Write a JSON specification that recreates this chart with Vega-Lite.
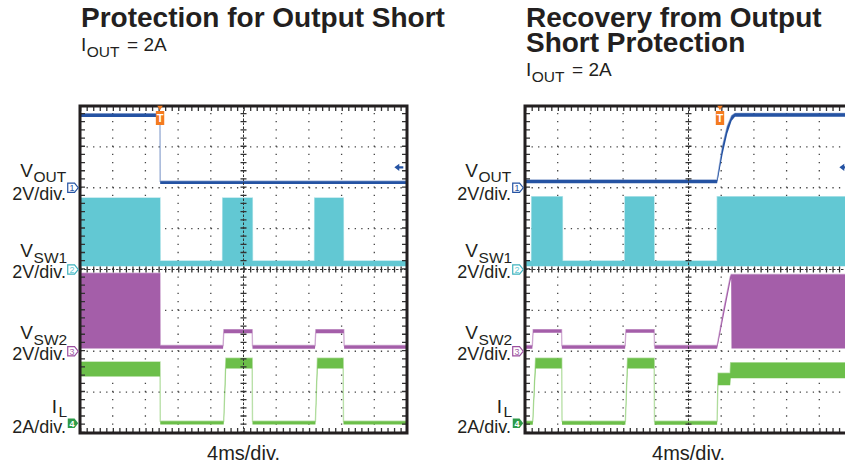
{
  "$schema": "https://vega.github.io/schema/vega-lite/v6.json",
  "width": 845,
  "height": 466,
  "autosize": {"type": "fit", "contains": "padding"},
  "padding": 0,
  "background": "white",
  "config": {"view": {"stroke": null}, "font": "Liberation Sans"},
  "datasets": {
    "traces": [
      {"panel": "L", "ch": "VOUT", "t": 0, "lo": 7.73, "hi": 7.81},
      {"panel": "L", "ch": "VOUT", "t": 9.78, "lo": 7.73, "hi": 7.81},
      {"panel": "L", "ch": "VOUT", "t": 9.81, "lo": 6.09, "hi": 6.16},
      {"panel": "L", "ch": "VOUT", "t": 40, "lo": 6.09, "hi": 6.16},
      {"panel": "L", "ch": "VSW1", "t": 0, "lo": 4.08, "hi": 5.75},
      {"panel": "L", "ch": "VSW1", "t": 9.79, "lo": 4.08, "hi": 5.75},
      {"panel": "L", "ch": "VSW1", "t": 9.81, "lo": 4.08, "hi": 4.21},
      {"panel": "L", "ch": "VSW1", "t": 17.44, "lo": 4.08, "hi": 4.21},
      {"panel": "L", "ch": "VSW1", "t": 17.46, "lo": 4.08, "hi": 5.75},
      {"panel": "L", "ch": "VSW1", "t": 21.08, "lo": 4.08, "hi": 5.75},
      {"panel": "L", "ch": "VSW1", "t": 21.1, "lo": 4.08, "hi": 4.21},
      {"panel": "L", "ch": "VSW1", "t": 28.69, "lo": 4.08, "hi": 4.21},
      {"panel": "L", "ch": "VSW1", "t": 28.71, "lo": 4.08, "hi": 5.75},
      {"panel": "L", "ch": "VSW1", "t": 32.21, "lo": 4.08, "hi": 5.75},
      {"panel": "L", "ch": "VSW1", "t": 32.23, "lo": 4.08, "hi": 4.21},
      {"panel": "L", "ch": "VSW1", "t": 40, "lo": 4.08, "hi": 4.21},
      {"panel": "L", "ch": "VSW2", "t": 0, "lo": 2.07, "hi": 3.91},
      {"panel": "L", "ch": "VSW2", "t": 9.79, "lo": 2.07, "hi": 3.91},
      {"panel": "L", "ch": "VSW2", "t": 9.81, "lo": 2.06, "hi": 2.14},
      {"panel": "L", "ch": "VSW2", "t": 17.5, "lo": 2.06, "hi": 2.14},
      {"panel": "L", "ch": "VSW2", "t": 17.6, "lo": 2.44, "hi": 2.53},
      {"panel": "L", "ch": "VSW2", "t": 21.06, "lo": 2.44, "hi": 2.53},
      {"panel": "L", "ch": "VSW2", "t": 21.1, "lo": 2.06, "hi": 2.14},
      {"panel": "L", "ch": "VSW2", "t": 28.75, "lo": 2.06, "hi": 2.14},
      {"panel": "L", "ch": "VSW2", "t": 28.85, "lo": 2.44, "hi": 2.53},
      {"panel": "L", "ch": "VSW2", "t": 32.27, "lo": 2.44, "hi": 2.53},
      {"panel": "L", "ch": "VSW2", "t": 32.31, "lo": 2.06, "hi": 2.14},
      {"panel": "L", "ch": "VSW2", "t": 40, "lo": 2.06, "hi": 2.14},
      {"panel": "L", "ch": "IL", "t": 0, "lo": 1.38, "hi": 1.74},
      {"panel": "L", "ch": "IL", "t": 9.79, "lo": 1.38, "hi": 1.74},
      {"panel": "L", "ch": "IL", "t": 9.82, "lo": 0.21, "hi": 0.29},
      {"panel": "L", "ch": "IL", "t": 17.58, "lo": 0.21, "hi": 0.29},
      {"panel": "L", "ch": "IL", "t": 17.85, "lo": 1.58, "hi": 1.83},
      {"panel": "L", "ch": "IL", "t": 21.06, "lo": 1.58, "hi": 1.83},
      {"panel": "L", "ch": "IL", "t": 21.1, "lo": 0.21, "hi": 0.29},
      {"panel": "L", "ch": "IL", "t": 28.8, "lo": 0.21, "hi": 0.29},
      {"panel": "L", "ch": "IL", "t": 29.05, "lo": 1.58, "hi": 1.83},
      {"panel": "L", "ch": "IL", "t": 32.19, "lo": 1.58, "hi": 1.83},
      {"panel": "L", "ch": "IL", "t": 32.23, "lo": 0.21, "hi": 0.29},
      {"panel": "L", "ch": "IL", "t": 40, "lo": 0.21, "hi": 0.29},
      {"panel": "R", "ch": "VOUT", "t": 0, "lo": 6.11, "hi": 6.19},
      {"panel": "R", "ch": "VOUT", "t": 23.5, "lo": 6.11, "hi": 6.19},
      {"panel": "R", "ch": "VOUT", "t": 24.17, "lo": 6.82, "hi": 7.02},
      {"panel": "R", "ch": "VOUT", "t": 24.74, "lo": 7.32, "hi": 7.5},
      {"panel": "R", "ch": "VOUT", "t": 25.28, "lo": 7.64, "hi": 7.76},
      {"panel": "R", "ch": "VOUT", "t": 25.69, "lo": 7.74, "hi": 7.82},
      {"panel": "R", "ch": "VOUT", "t": 40, "lo": 7.74, "hi": 7.82},
      {"panel": "R", "ch": "VSW1", "t": 0, "lo": 4.08, "hi": 4.21},
      {"panel": "R", "ch": "VSW1", "t": 0.8, "lo": 4.08, "hi": 4.21},
      {"panel": "R", "ch": "VSW1", "t": 0.82, "lo": 4.08, "hi": 5.78},
      {"panel": "R", "ch": "VSW1", "t": 4.57, "lo": 4.08, "hi": 5.78},
      {"panel": "R", "ch": "VSW1", "t": 4.59, "lo": 4.08, "hi": 4.21},
      {"panel": "R", "ch": "VSW1", "t": 12.21, "lo": 4.08, "hi": 4.21},
      {"panel": "R", "ch": "VSW1", "t": 12.23, "lo": 4.08, "hi": 5.78},
      {"panel": "R", "ch": "VSW1", "t": 15.78, "lo": 4.08, "hi": 5.78},
      {"panel": "R", "ch": "VSW1", "t": 15.8, "lo": 4.08, "hi": 4.21},
      {"panel": "R", "ch": "VSW1", "t": 23.5, "lo": 4.08, "hi": 4.21},
      {"panel": "R", "ch": "VSW1", "t": 23.52, "lo": 4.08, "hi": 5.78},
      {"panel": "R", "ch": "VSW1", "t": 40, "lo": 4.08, "hi": 5.78},
      {"panel": "R", "ch": "VSW2", "t": 0, "lo": 2.06, "hi": 2.14},
      {"panel": "R", "ch": "VSW2", "t": 0.9, "lo": 2.06, "hi": 2.14},
      {"panel": "R", "ch": "VSW2", "t": 1.0, "lo": 2.45, "hi": 2.53},
      {"panel": "R", "ch": "VSW2", "t": 4.47, "lo": 2.45, "hi": 2.53},
      {"panel": "R", "ch": "VSW2", "t": 4.51, "lo": 2.06, "hi": 2.14},
      {"panel": "R", "ch": "VSW2", "t": 12.25, "lo": 2.06, "hi": 2.14},
      {"panel": "R", "ch": "VSW2", "t": 12.35, "lo": 2.45, "hi": 2.53},
      {"panel": "R", "ch": "VSW2", "t": 15.8, "lo": 2.45, "hi": 2.53},
      {"panel": "R", "ch": "VSW2", "t": 15.84, "lo": 2.06, "hi": 2.14},
      {"panel": "R", "ch": "VSW2", "t": 23.5, "lo": 2.06, "hi": 2.14},
      {"panel": "R", "ch": "VSW2", "t": 24.3, "lo": 2.86, "hi": 3.02},
      {"panel": "R", "ch": "VSW2", "t": 25.1, "lo": 3.68, "hi": 3.82},
      {"panel": "R", "ch": "VSW2", "t": 25.22, "lo": 3.78, "hi": 3.88},
      {"panel": "R", "ch": "VSW2", "t": 25.26, "lo": 2.07, "hi": 3.88},
      {"panel": "R", "ch": "VSW2", "t": 40, "lo": 2.07, "hi": 3.88},
      {"panel": "R", "ch": "IL", "t": 0, "lo": 0.2, "hi": 0.29},
      {"panel": "R", "ch": "IL", "t": 0.95, "lo": 0.2, "hi": 0.29},
      {"panel": "R", "ch": "IL", "t": 1.3, "lo": 1.58, "hi": 1.83},
      {"panel": "R", "ch": "IL", "t": 4.49, "lo": 1.58, "hi": 1.83},
      {"panel": "R", "ch": "IL", "t": 4.53, "lo": 0.2, "hi": 0.29},
      {"panel": "R", "ch": "IL", "t": 12.28, "lo": 0.2, "hi": 0.29},
      {"panel": "R", "ch": "IL", "t": 12.55, "lo": 1.58, "hi": 1.83},
      {"panel": "R", "ch": "IL", "t": 15.8, "lo": 1.58, "hi": 1.83},
      {"panel": "R", "ch": "IL", "t": 15.84, "lo": 0.2, "hi": 0.29},
      {"panel": "R", "ch": "IL", "t": 23.5, "lo": 0.2, "hi": 0.29},
      {"panel": "R", "ch": "IL", "t": 23.62, "lo": 1.17, "hi": 1.46},
      {"panel": "R", "ch": "IL", "t": 25.1, "lo": 1.17, "hi": 1.46},
      {"panel": "R", "ch": "IL", "t": 25.16, "lo": 1.34, "hi": 1.72},
      {"panel": "R", "ch": "IL", "t": 40, "lo": 1.34, "hi": 1.72}
    ],
    "vgrid": [{"t": 4}, {"t": 8}, {"t": 12}, {"t": 16}, {"t": 24}, {"t": 28}, {"t": 32}, {"t": 36}],
    "hgrid": [{"d": 1}, {"d": 2}, {"d": 3}, {"d": 5}, {"d": 6}, {"d": 7}],
    "frame": [{"x0": 0, "x1": 40, "y0": 0, "y1": 8, "xc": 20, "yc": 4}],
    "chmarks": [
      {"ch": "VOUT", "num": "1", "d": 6.0},
      {"ch": "VSW1", "num": "2", "d": 4.0},
      {"ch": "VSW2", "num": "3", "d": 2.0},
      {"ch": "IL", "num": "4", "d": 0.24}
    ],
    "trig": [{"panel": "L", "t": 9.79}, {"panel": "R", "t": 23.85}],
    "arrow": [{"t": 39.0, "d": 6.5}],
    "labels": [
      {"panel": "L", "kind": "title", "text": "Protection for Output Short", "t": 0.12, "d": 9.93},
      {"panel": "R", "kind": "title", "text": "Recovery from Output", "t": 0.12, "d": 9.93},
      {"panel": "R", "kind": "title", "text": "Short Protection", "t": 0.12, "d": 9.32},
      {"panel": "L", "kind": "big", "text": "I", "t": 0.12, "d": 9.34},
      {"panel": "L", "kind": "small", "text": "OUT", "t": 0.82, "d": 9.2},
      {"panel": "L", "kind": "big", "text": "= 2A", "t": 5.75, "d": 9.35},
      {"panel": "R", "kind": "big", "text": "I", "t": 0.12, "d": 8.73},
      {"panel": "R", "kind": "small", "text": "OUT", "t": 0.82, "d": 8.59},
      {"panel": "R", "kind": "big", "text": "= 2A", "t": 5.75, "d": 8.74},
      {"panel": "both", "kind": "big", "text": "V", "t": -7.32, "d": 6.26},
      {"panel": "both", "kind": "small", "text": "OUT", "t": -5.68, "d": 6.13},
      {"panel": "both", "kind": "div", "text": "2V/div.", "t": -1.71, "d": 5.7},
      {"panel": "both", "kind": "big", "text": "V", "t": -7.32, "d": 4.3},
      {"panel": "both", "kind": "small", "text": "SW1", "t": -5.68, "d": 4.17},
      {"panel": "both", "kind": "div", "text": "2V/div.", "t": -1.71, "d": 3.79},
      {"panel": "both", "kind": "big", "text": "V", "t": -7.32, "d": 2.29},
      {"panel": "both", "kind": "small", "text": "SW2", "t": -5.68, "d": 2.16},
      {"panel": "both", "kind": "div", "text": "2V/div.", "t": -1.71, "d": 1.79},
      {"panel": "both", "kind": "big", "text": "I", "t": -3.45, "d": 0.49},
      {"panel": "both", "kind": "small", "text": "L", "t": -2.62, "d": 0.39},
      {"panel": "both", "kind": "div", "text": "2A/div.", "t": -1.71, "d": 0.0},
      {"panel": "both", "kind": "time", "text": "4ms/div.", "t": 20, "d": -0.66}
    ]
  },
  "resolve": {"scale": {"x": "independent"}},
  "layer": [
    {
      "layer": [
        {"data": {"name": "vgrid"}, "mark": {"type": "rule", "stroke": "#444", "strokeWidth": 1.3, "strokeDash": [1.3, 6.875]},
         "encoding": {"x": {"field": "t", "type": "quantitative", "scale": {"domain": [0, 40], "range": [80, 407], "nice": false, "zero": false}, "axis": null},
                      "y": {"datum": 0, "type": "quantitative", "scale": {"domain": [0, 8], "range": [433, 106], "nice": false, "zero": false}, "axis": null},
                      "y2": {"datum": 8}}},
        {"data": {"name": "hgrid"}, "mark": {"type": "rule", "stroke": "#444", "strokeWidth": 1.3, "strokeDash": [1.3, 5.24]},
         "encoding": {"y": {"field": "d", "type": "quantitative", "scale": {"domain": [0, 8], "range": [433, 106], "nice": false, "zero": false}, "axis": null},
                      "x": {"datum": 0, "type": "quantitative", "scale": {"domain": [0, 40], "range": [80, 407], "nice": false, "zero": false}, "axis": null},
                      "x2": {"datum": 40}}},
        {"data": {"name": "traces"}, "transform": [{"filter": "datum.panel === 'L'"}],
         "mark": {"type": "line", "strokeWidth": 1.4, "opacity": 0.45},
         "encoding": {"x": {"field": "t", "type": "quantitative", "scale": {"domain": [0, 40], "range": [80, 407], "nice": false, "zero": false}, "axis": null},
                      "y": {"field": "hi", "type": "quantitative", "scale": {"domain": [0, 8], "range": [433, 106], "nice": false, "zero": false}, "axis": null},
                      "color": {"field": "ch", "type": "nominal", "scale": {"domain": ["VOUT", "VSW1", "VSW2", "IL"], "range": ["#2553a3", "#62c8d3", "#a45ea9", "#6cbf4a"]}, "legend": null}}},
        {"data": {"name": "traces"}, "transform": [{"filter": "datum.panel === 'L'"}],
         "mark": {"type": "area", "opacity": 1},
         "encoding": {"x": {"field": "t", "type": "quantitative", "scale": {"domain": [0, 40], "range": [80, 407], "nice": false, "zero": false}, "axis": null},
                      "y": {"field": "hi", "type": "quantitative", "scale": {"domain": [0, 8], "range": [433, 106], "nice": false, "zero": false}, "axis": null},
                      "y2": {"field": "lo"},
                      "color": {"field": "ch", "type": "nominal", "scale": {"domain": ["VOUT", "VSW1", "VSW2", "IL"], "range": ["#2553a3", "#62c8d3", "#a45ea9", "#6cbf4a"]}, "legend": null}}},
        {"data": {"name": "frame"}, "mark": {"type": "rule", "stroke": "#333", "strokeWidth": 1, "strokeDash": [2.5, 1.5]},
         "encoding": {"x": {"field": "xc", "type": "quantitative", "scale": {"domain": [0, 40], "range": [80, 407], "nice": false, "zero": false}, "axis": null},
                      "y": {"field": "y0", "type": "quantitative", "scale": {"domain": [0, 8], "range": [433, 106], "nice": false, "zero": false}, "axis": null},
                      "y2": {"field": "y1"}}},
        {"data": {"name": "frame"}, "mark": {"type": "rule", "stroke": "#333", "strokeWidth": 6, "strokeDash": [1.3, 6.875]},
         "encoding": {"x": {"field": "xc", "type": "quantitative", "scale": {"domain": [0, 40], "range": [80, 407], "nice": false, "zero": false}, "axis": null},
                      "y": {"field": "y0", "type": "quantitative", "scale": {"domain": [0, 8], "range": [433, 106], "nice": false, "zero": false}, "axis": null},
                      "y2": {"field": "y1"}}},
        {"data": {"name": "frame"}, "mark": {"type": "rule", "stroke": "#333", "strokeWidth": 1, "strokeDash": [2.5, 1.5]},
         "encoding": {"y": {"field": "yc", "type": "quantitative", "scale": {"domain": [0, 8], "range": [433, 106], "nice": false, "zero": false}, "axis": null},
                      "x": {"field": "x0", "type": "quantitative", "scale": {"domain": [0, 40], "range": [80, 407], "nice": false, "zero": false}, "axis": null},
                      "x2": {"field": "x1"}}},
        {"data": {"name": "frame"}, "mark": {"type": "rule", "stroke": "#333", "strokeWidth": 6, "strokeDash": [1.3, 5.24]},
         "encoding": {"y": {"field": "yc", "type": "quantitative", "scale": {"domain": [0, 8], "range": [433, 106], "nice": false, "zero": false}, "axis": null},
                      "x": {"field": "x0", "type": "quantitative", "scale": {"domain": [0, 40], "range": [80, 407], "nice": false, "zero": false}, "axis": null},
                      "x2": {"field": "x1"}}},
        {"data": {"name": "frame"}, "mark": {"type": "rule", "stroke": "#333", "strokeWidth": 5, "strokeDash": [1.3, 5.24], "yOffset": 2.5},
         "encoding": {"y": {"field": "y1", "type": "quantitative", "scale": {"domain": [0, 8], "range": [433, 106], "nice": false, "zero": false}, "axis": null},
                      "x": {"field": "x0", "type": "quantitative", "scale": {"domain": [0, 40], "range": [80, 407], "nice": false, "zero": false}, "axis": null},
                      "x2": {"field": "x1"}}},
        {"data": {"name": "frame"}, "mark": {"type": "rule", "stroke": "#333", "strokeWidth": 5, "strokeDash": [1.3, 5.24], "yOffset": -2.5},
         "encoding": {"y": {"field": "y0", "type": "quantitative", "scale": {"domain": [0, 8], "range": [433, 106], "nice": false, "zero": false}, "axis": null},
                      "x": {"field": "x0", "type": "quantitative", "scale": {"domain": [0, 40], "range": [80, 407], "nice": false, "zero": false}, "axis": null},
                      "x2": {"field": "x1"}}},
        {"data": {"name": "frame"}, "mark": {"type": "rule", "stroke": "#333", "strokeWidth": 5, "strokeDash": [1.3, 6.875], "xOffset": 2.5},
         "encoding": {"x": {"field": "x0", "type": "quantitative", "scale": {"domain": [0, 40], "range": [80, 407], "nice": false, "zero": false}, "axis": null},
                      "y": {"field": "y0", "type": "quantitative", "scale": {"domain": [0, 8], "range": [433, 106], "nice": false, "zero": false}, "axis": null},
                      "y2": {"field": "y1"}}},
        {"data": {"name": "frame"}, "mark": {"type": "rule", "stroke": "#333", "strokeWidth": 5, "strokeDash": [1.3, 6.875], "xOffset": -2.5},
         "encoding": {"x": {"field": "x1", "type": "quantitative", "scale": {"domain": [0, 40], "range": [80, 407], "nice": false, "zero": false}, "axis": null},
                      "y": {"field": "y0", "type": "quantitative", "scale": {"domain": [0, 8], "range": [433, 106], "nice": false, "zero": false}, "axis": null},
                      "y2": {"field": "y1"}}},
        {"data": {"name": "frame"}, "mark": {"type": "rect", "fillOpacity": 0, "stroke": "#231f20", "strokeWidth": 3},
         "encoding": {"x": {"field": "x0", "type": "quantitative", "scale": {"domain": [0, 40], "range": [80, 407], "nice": false, "zero": false}, "axis": null},
                      "x2": {"field": "x1"},
                      "y": {"field": "y0", "type": "quantitative", "scale": {"domain": [0, 8], "range": [433, 106], "nice": false, "zero": false}, "axis": null},
                      "y2": {"field": "y1"}}},
        {"data": {"name": "chmarks"}, "transform": [{"filter": "datum.ch !== 'IL'"}],
         "mark": {"type": "point", "shape": "M -1 -0.9 L 0.3 -0.9 L 1 0 L 0.3 0.9 L -1 0.9 Z", "size": 110, "filled": true, "fill": "white", "strokeWidth": 1.2, "opacity": 1},
         "encoding": {"x": {"datum": -0.86, "type": "quantitative", "scale": {"domain": [0, 40], "range": [80, 407], "nice": false, "zero": false}, "axis": null},
                      "y": {"field": "d", "type": "quantitative", "scale": {"domain": [0, 8], "range": [433, 106], "nice": false, "zero": false}, "axis": null},
                      "stroke": {"field": "ch", "type": "nominal", "scale": {"domain": ["VOUT", "VSW1", "VSW2", "IL"], "range": ["#2553a3", "#3fb3bf", "#9c4fa0", "#2e9b4a"]}, "legend": null}}},
        {"data": {"name": "chmarks"}, "transform": [{"filter": "datum.ch === 'IL'"}],
         "mark": {"type": "point", "shape": "M -1 -0.9 L 0.3 -0.9 L 1 0 L 0.3 0.9 L -1 0.9 Z", "size": 110, "filled": true, "fill": "#2e9b4a", "opacity": 1},
         "encoding": {"x": {"datum": -0.86, "type": "quantitative", "scale": {"domain": [0, 40], "range": [80, 407], "nice": false, "zero": false}, "axis": null},
                      "y": {"field": "d", "type": "quantitative", "scale": {"domain": [0, 8], "range": [433, 106], "nice": false, "zero": false}, "axis": null}}},
        {"data": {"name": "chmarks"}, "transform": [{"filter": "datum.ch !== 'IL'"}],
         "mark": {"type": "text", "fontSize": 9, "align": "center", "baseline": "middle", "dx": -1, "dy": 0.5},
         "encoding": {"x": {"datum": -0.86, "type": "quantitative", "scale": {"domain": [0, 40], "range": [80, 407], "nice": false, "zero": false}, "axis": null},
                      "y": {"field": "d", "type": "quantitative", "scale": {"domain": [0, 8], "range": [433, 106], "nice": false, "zero": false}, "axis": null},
                      "text": {"field": "num"},
                      "color": {"field": "ch", "type": "nominal", "scale": {"domain": ["VOUT", "VSW1", "VSW2", "IL"], "range": ["#2553a3", "#62c8d3", "#a45ea9", "#6cbf4a"]}, "legend": null}}},
        {"data": {"name": "chmarks"}, "transform": [{"filter": "datum.ch === 'IL'"}],
         "mark": {"type": "text", "fontSize": 9, "fontWeight": "bold", "align": "center", "baseline": "middle", "dx": -1, "dy": 0.5, "fill": "white"},
         "encoding": {"x": {"datum": -0.86, "type": "quantitative", "scale": {"domain": [0, 40], "range": [80, 407], "nice": false, "zero": false}, "axis": null},
                      "y": {"field": "d", "type": "quantitative", "scale": {"domain": [0, 8], "range": [433, 106], "nice": false, "zero": false}, "axis": null},
                      "text": {"field": "num"}}},
        {"data": {"name": "trig"}, "transform": [{"filter": "datum.panel === 'L'"}],
         "mark": {"type": "point", "shape": "triangle-down", "size": 30, "filled": true, "fill": "#f47b20", "opacity": 1, "yOffset": 2},
         "encoding": {"x": {"field": "t", "type": "quantitative", "scale": {"domain": [0, 40], "range": [80, 407], "nice": false, "zero": false}, "axis": null},
                      "y": {"datum": 8, "type": "quantitative", "scale": {"domain": [0, 8], "range": [433, 106], "nice": false, "zero": false}, "axis": null}}},
        {"data": {"name": "trig"}, "transform": [{"filter": "datum.panel === 'L'"}],
         "mark": {"type": "point", "shape": "M -0.6 -1 L 0.6 -1 L 0.6 1 L -0.6 1 Z", "size": 196, "filled": true, "fill": "#f47b20", "opacity": 1},
         "encoding": {"x": {"field": "t", "type": "quantitative", "scale": {"domain": [0, 40], "range": [80, 407], "nice": false, "zero": false}, "axis": null},
                      "y": {"datum": 7.706, "type": "quantitative", "scale": {"domain": [0, 8], "range": [433, 106], "nice": false, "zero": false}, "axis": null}}},
        {"data": {"name": "trig"}, "transform": [{"filter": "datum.panel === 'L'"}],
         "mark": {"type": "text", "text": "T", "fontSize": 11, "fontWeight": "bold", "align": "center", "baseline": "middle", "fill": "white", "dy": 1},
         "encoding": {"x": {"field": "t", "type": "quantitative", "scale": {"domain": [0, 40], "range": [80, 407], "nice": false, "zero": false}, "axis": null},
                      "y": {"datum": 7.706, "type": "quantitative", "scale": {"domain": [0, 8], "range": [433, 106], "nice": false, "zero": false}, "axis": null}}},
        {"data": {"name": "arrow"},
         "mark": {"type": "point", "shape": "M -1 0 L 0.1 -0.8 L 0.1 -0.25 L 1 -0.25 L 1 0.25 L 0.1 0.25 L 0.1 0.8 Z", "size": 80, "filled": true, "fill": "#2553a3", "opacity": 1},
         "encoding": {"x": {"field": "t", "type": "quantitative", "scale": {"domain": [0, 40], "range": [80, 407], "nice": false, "zero": false}, "axis": null},
                      "y": {"field": "d", "type": "quantitative", "scale": {"domain": [0, 8], "range": [433, 106], "nice": false, "zero": false}, "axis": null}}},
        {"data": {"name": "labels"}, "transform": [{"filter": "datum.panel === 'L' && datum.kind === 'title'"}],
         "mark": {"type": "text", "fontSize": 28, "fontWeight": "bold", "align": "left", "baseline": "alphabetic", "fill": "#231f20"},
         "encoding": {"x": {"field": "t", "type": "quantitative", "scale": {"domain": [0, 40], "range": [80, 407], "nice": false, "zero": false}, "axis": null},
                      "y": {"field": "d", "type": "quantitative", "scale": {"domain": [0, 8], "range": [433, 106], "nice": false, "zero": false}, "axis": null},
                      "text": {"field": "text"}}},
        {"data": {"name": "labels"}, "transform": [{"filter": "(datum.panel === 'L' || datum.panel === 'both') && datum.kind === 'big'"}],
         "mark": {"type": "text", "fontSize": 19, "align": "left", "baseline": "alphabetic", "fill": "#231f20"},
         "encoding": {"x": {"field": "t", "type": "quantitative", "scale": {"domain": [0, 40], "range": [80, 407], "nice": false, "zero": false}, "axis": null},
                      "y": {"field": "d", "type": "quantitative", "scale": {"domain": [0, 8], "range": [433, 106], "nice": false, "zero": false}, "axis": null},
                      "text": {"field": "text"}}},
        {"data": {"name": "labels"}, "transform": [{"filter": "(datum.panel === 'L' || datum.panel === 'both') && datum.kind === 'small'"}],
         "mark": {"type": "text", "fontSize": 15.5, "align": "left", "baseline": "alphabetic", "fill": "#231f20"},
         "encoding": {"x": {"field": "t", "type": "quantitative", "scale": {"domain": [0, 40], "range": [80, 407], "nice": false, "zero": false}, "axis": null},
                      "y": {"field": "d", "type": "quantitative", "scale": {"domain": [0, 8], "range": [433, 106], "nice": false, "zero": false}, "axis": null},
                      "text": {"field": "text"}}},
        {"data": {"name": "labels"}, "transform": [{"filter": "(datum.panel === 'L' || datum.panel === 'both') && datum.kind === 'div'"}],
         "mark": {"type": "text", "fontSize": 18, "align": "right", "baseline": "alphabetic", "fill": "#231f20"},
         "encoding": {"x": {"field": "t", "type": "quantitative", "scale": {"domain": [0, 40], "range": [80, 407], "nice": false, "zero": false}, "axis": null},
                      "y": {"field": "d", "type": "quantitative", "scale": {"domain": [0, 8], "range": [433, 106], "nice": false, "zero": false}, "axis": null},
                      "text": {"field": "text"}}},
        {"data": {"name": "labels"}, "transform": [{"filter": "(datum.panel === 'L' || datum.panel === 'both') && datum.kind === 'time'"}],
         "mark": {"type": "text", "fontSize": 20, "align": "center", "baseline": "alphabetic", "fill": "#231f20"},
         "encoding": {"x": {"field": "t", "type": "quantitative", "scale": {"domain": [0, 40], "range": [80, 407], "nice": false, "zero": false}, "axis": null},
                      "y": {"field": "d", "type": "quantitative", "scale": {"domain": [0, 8], "range": [433, 106], "nice": false, "zero": false}, "axis": null},
                      "text": {"field": "text"}}}
      ]
    },
    {
      "layer": [
        {"data": {"name": "vgrid"}, "mark": {"type": "rule", "stroke": "#444", "strokeWidth": 1.3, "strokeDash": [1.3, 6.875]},
         "encoding": {"x": {"field": "t", "type": "quantitative", "scale": {"domain": [0, 40], "range": [525, 852], "nice": false, "zero": false}, "axis": null},
                      "y": {"datum": 0, "type": "quantitative", "scale": {"domain": [0, 8], "range": [433, 106], "nice": false, "zero": false}, "axis": null},
                      "y2": {"datum": 8}}},
        {"data": {"name": "hgrid"}, "mark": {"type": "rule", "stroke": "#444", "strokeWidth": 1.3, "strokeDash": [1.3, 5.24]},
         "encoding": {"y": {"field": "d", "type": "quantitative", "scale": {"domain": [0, 8], "range": [433, 106], "nice": false, "zero": false}, "axis": null},
                      "x": {"datum": 0, "type": "quantitative", "scale": {"domain": [0, 40], "range": [525, 852], "nice": false, "zero": false}, "axis": null},
                      "x2": {"datum": 40}}},
        {"data": {"name": "traces"}, "transform": [{"filter": "datum.panel === 'R'"}],
         "mark": {"type": "line", "strokeWidth": 1.4, "opacity": 0.45},
         "encoding": {"x": {"field": "t", "type": "quantitative", "scale": {"domain": [0, 40], "range": [525, 852], "nice": false, "zero": false}, "axis": null},
                      "y": {"field": "hi", "type": "quantitative", "scale": {"domain": [0, 8], "range": [433, 106], "nice": false, "zero": false}, "axis": null},
                      "color": {"field": "ch", "type": "nominal", "scale": {"domain": ["VOUT", "VSW1", "VSW2", "IL"], "range": ["#2553a3", "#62c8d3", "#a45ea9", "#6cbf4a"]}, "legend": null}}},
        {"data": {"name": "traces"}, "transform": [{"filter": "datum.panel === 'R'"}],
         "mark": {"type": "area", "opacity": 1},
         "encoding": {"x": {"field": "t", "type": "quantitative", "scale": {"domain": [0, 40], "range": [525, 852], "nice": false, "zero": false}, "axis": null},
                      "y": {"field": "hi", "type": "quantitative", "scale": {"domain": [0, 8], "range": [433, 106], "nice": false, "zero": false}, "axis": null},
                      "y2": {"field": "lo"},
                      "color": {"field": "ch", "type": "nominal", "scale": {"domain": ["VOUT", "VSW1", "VSW2", "IL"], "range": ["#2553a3", "#62c8d3", "#a45ea9", "#6cbf4a"]}, "legend": null}}},
        {"data": {"name": "frame"}, "mark": {"type": "rule", "stroke": "#333", "strokeWidth": 1, "strokeDash": [2.5, 1.5]},
         "encoding": {"x": {"field": "xc", "type": "quantitative", "scale": {"domain": [0, 40], "range": [525, 852], "nice": false, "zero": false}, "axis": null},
                      "y": {"field": "y0", "type": "quantitative", "scale": {"domain": [0, 8], "range": [433, 106], "nice": false, "zero": false}, "axis": null},
                      "y2": {"field": "y1"}}},
        {"data": {"name": "frame"}, "mark": {"type": "rule", "stroke": "#333", "strokeWidth": 6, "strokeDash": [1.3, 6.875]},
         "encoding": {"x": {"field": "xc", "type": "quantitative", "scale": {"domain": [0, 40], "range": [525, 852], "nice": false, "zero": false}, "axis": null},
                      "y": {"field": "y0", "type": "quantitative", "scale": {"domain": [0, 8], "range": [433, 106], "nice": false, "zero": false}, "axis": null},
                      "y2": {"field": "y1"}}},
        {"data": {"name": "frame"}, "mark": {"type": "rule", "stroke": "#333", "strokeWidth": 1, "strokeDash": [2.5, 1.5]},
         "encoding": {"y": {"field": "yc", "type": "quantitative", "scale": {"domain": [0, 8], "range": [433, 106], "nice": false, "zero": false}, "axis": null},
                      "x": {"field": "x0", "type": "quantitative", "scale": {"domain": [0, 40], "range": [525, 852], "nice": false, "zero": false}, "axis": null},
                      "x2": {"field": "x1"}}},
        {"data": {"name": "frame"}, "mark": {"type": "rule", "stroke": "#333", "strokeWidth": 6, "strokeDash": [1.3, 5.24]},
         "encoding": {"y": {"field": "yc", "type": "quantitative", "scale": {"domain": [0, 8], "range": [433, 106], "nice": false, "zero": false}, "axis": null},
                      "x": {"field": "x0", "type": "quantitative", "scale": {"domain": [0, 40], "range": [525, 852], "nice": false, "zero": false}, "axis": null},
                      "x2": {"field": "x1"}}},
        {"data": {"name": "frame"}, "mark": {"type": "rule", "stroke": "#333", "strokeWidth": 5, "strokeDash": [1.3, 5.24], "yOffset": 2.5},
         "encoding": {"y": {"field": "y1", "type": "quantitative", "scale": {"domain": [0, 8], "range": [433, 106], "nice": false, "zero": false}, "axis": null},
                      "x": {"field": "x0", "type": "quantitative", "scale": {"domain": [0, 40], "range": [525, 852], "nice": false, "zero": false}, "axis": null},
                      "x2": {"field": "x1"}}},
        {"data": {"name": "frame"}, "mark": {"type": "rule", "stroke": "#333", "strokeWidth": 5, "strokeDash": [1.3, 5.24], "yOffset": -2.5},
         "encoding": {"y": {"field": "y0", "type": "quantitative", "scale": {"domain": [0, 8], "range": [433, 106], "nice": false, "zero": false}, "axis": null},
                      "x": {"field": "x0", "type": "quantitative", "scale": {"domain": [0, 40], "range": [525, 852], "nice": false, "zero": false}, "axis": null},
                      "x2": {"field": "x1"}}},
        {"data": {"name": "frame"}, "mark": {"type": "rule", "stroke": "#333", "strokeWidth": 5, "strokeDash": [1.3, 6.875], "xOffset": 2.5},
         "encoding": {"x": {"field": "x0", "type": "quantitative", "scale": {"domain": [0, 40], "range": [525, 852], "nice": false, "zero": false}, "axis": null},
                      "y": {"field": "y0", "type": "quantitative", "scale": {"domain": [0, 8], "range": [433, 106], "nice": false, "zero": false}, "axis": null},
                      "y2": {"field": "y1"}}},
        {"data": {"name": "frame"}, "mark": {"type": "rect", "fillOpacity": 0, "stroke": "#231f20", "strokeWidth": 3},
         "encoding": {"x": {"field": "x0", "type": "quantitative", "scale": {"domain": [0, 40], "range": [525, 852], "nice": false, "zero": false}, "axis": null},
                      "x2": {"field": "x1"},
                      "y": {"field": "y0", "type": "quantitative", "scale": {"domain": [0, 8], "range": [433, 106], "nice": false, "zero": false}, "axis": null},
                      "y2": {"field": "y1"}}},
        {"data": {"name": "chmarks"}, "transform": [{"filter": "datum.ch !== 'IL'"}],
         "mark": {"type": "point", "shape": "M -1 -0.9 L 0.3 -0.9 L 1 0 L 0.3 0.9 L -1 0.9 Z", "size": 110, "filled": true, "fill": "white", "strokeWidth": 1.2, "opacity": 1},
         "encoding": {"x": {"datum": -0.86, "type": "quantitative", "scale": {"domain": [0, 40], "range": [525, 852], "nice": false, "zero": false}, "axis": null},
                      "y": {"field": "d", "type": "quantitative", "scale": {"domain": [0, 8], "range": [433, 106], "nice": false, "zero": false}, "axis": null},
                      "stroke": {"field": "ch", "type": "nominal", "scale": {"domain": ["VOUT", "VSW1", "VSW2", "IL"], "range": ["#2553a3", "#3fb3bf", "#9c4fa0", "#2e9b4a"]}, "legend": null}}},
        {"data": {"name": "chmarks"}, "transform": [{"filter": "datum.ch === 'IL'"}],
         "mark": {"type": "point", "shape": "M -1 -0.9 L 0.3 -0.9 L 1 0 L 0.3 0.9 L -1 0.9 Z", "size": 110, "filled": true, "fill": "#2e9b4a", "opacity": 1},
         "encoding": {"x": {"datum": -0.86, "type": "quantitative", "scale": {"domain": [0, 40], "range": [525, 852], "nice": false, "zero": false}, "axis": null},
                      "y": {"field": "d", "type": "quantitative", "scale": {"domain": [0, 8], "range": [433, 106], "nice": false, "zero": false}, "axis": null}}},
        {"data": {"name": "chmarks"}, "transform": [{"filter": "datum.ch !== 'IL'"}],
         "mark": {"type": "text", "fontSize": 9, "align": "center", "baseline": "middle", "dx": -1, "dy": 0.5},
         "encoding": {"x": {"datum": -0.86, "type": "quantitative", "scale": {"domain": [0, 40], "range": [525, 852], "nice": false, "zero": false}, "axis": null},
                      "y": {"field": "d", "type": "quantitative", "scale": {"domain": [0, 8], "range": [433, 106], "nice": false, "zero": false}, "axis": null},
                      "text": {"field": "num"},
                      "color": {"field": "ch", "type": "nominal", "scale": {"domain": ["VOUT", "VSW1", "VSW2", "IL"], "range": ["#2553a3", "#62c8d3", "#a45ea9", "#6cbf4a"]}, "legend": null}}},
        {"data": {"name": "chmarks"}, "transform": [{"filter": "datum.ch === 'IL'"}],
         "mark": {"type": "text", "fontSize": 9, "fontWeight": "bold", "align": "center", "baseline": "middle", "dx": -1, "dy": 0.5, "fill": "white"},
         "encoding": {"x": {"datum": -0.86, "type": "quantitative", "scale": {"domain": [0, 40], "range": [525, 852], "nice": false, "zero": false}, "axis": null},
                      "y": {"field": "d", "type": "quantitative", "scale": {"domain": [0, 8], "range": [433, 106], "nice": false, "zero": false}, "axis": null},
                      "text": {"field": "num"}}},
        {"data": {"name": "trig"}, "transform": [{"filter": "datum.panel === 'R'"}],
         "mark": {"type": "point", "shape": "triangle-down", "size": 30, "filled": true, "fill": "#f47b20", "opacity": 1, "yOffset": 2},
         "encoding": {"x": {"field": "t", "type": "quantitative", "scale": {"domain": [0, 40], "range": [525, 852], "nice": false, "zero": false}, "axis": null},
                      "y": {"datum": 8, "type": "quantitative", "scale": {"domain": [0, 8], "range": [433, 106], "nice": false, "zero": false}, "axis": null}}},
        {"data": {"name": "trig"}, "transform": [{"filter": "datum.panel === 'R'"}],
         "mark": {"type": "point", "shape": "M -0.6 -1 L 0.6 -1 L 0.6 1 L -0.6 1 Z", "size": 196, "filled": true, "fill": "#f47b20", "opacity": 1},
         "encoding": {"x": {"field": "t", "type": "quantitative", "scale": {"domain": [0, 40], "range": [525, 852], "nice": false, "zero": false}, "axis": null},
                      "y": {"datum": 7.706, "type": "quantitative", "scale": {"domain": [0, 8], "range": [433, 106], "nice": false, "zero": false}, "axis": null}}},
        {"data": {"name": "trig"}, "transform": [{"filter": "datum.panel === 'R'"}],
         "mark": {"type": "text", "text": "T", "fontSize": 11, "fontWeight": "bold", "align": "center", "baseline": "middle", "fill": "white", "dy": 1},
         "encoding": {"x": {"field": "t", "type": "quantitative", "scale": {"domain": [0, 40], "range": [525, 852], "nice": false, "zero": false}, "axis": null},
                      "y": {"datum": 7.706, "type": "quantitative", "scale": {"domain": [0, 8], "range": [433, 106], "nice": false, "zero": false}, "axis": null}}},
        {"data": {"name": "arrow"},
         "mark": {"type": "point", "shape": "M -1 0 L 0.1 -0.8 L 0.1 -0.25 L 1 -0.25 L 1 0.25 L 0.1 0.25 L 0.1 0.8 Z", "size": 80, "filled": true, "fill": "#2553a3", "opacity": 1},
         "encoding": {"x": {"field": "t", "type": "quantitative", "scale": {"domain": [0, 40], "range": [525, 852], "nice": false, "zero": false}, "axis": null},
                      "y": {"field": "d", "type": "quantitative", "scale": {"domain": [0, 8], "range": [433, 106], "nice": false, "zero": false}, "axis": null}}},
        {"data": {"name": "labels"}, "transform": [{"filter": "datum.panel === 'R' && datum.kind === 'title'"}],
         "mark": {"type": "text", "fontSize": 28, "fontWeight": "bold", "align": "left", "baseline": "alphabetic", "fill": "#231f20"},
         "encoding": {"x": {"field": "t", "type": "quantitative", "scale": {"domain": [0, 40], "range": [525, 852], "nice": false, "zero": false}, "axis": null},
                      "y": {"field": "d", "type": "quantitative", "scale": {"domain": [0, 8], "range": [433, 106], "nice": false, "zero": false}, "axis": null},
                      "text": {"field": "text"}}},
        {"data": {"name": "labels"}, "transform": [{"filter": "(datum.panel === 'R' || datum.panel === 'both') && datum.kind === 'big'"}],
         "mark": {"type": "text", "fontSize": 19, "align": "left", "baseline": "alphabetic", "fill": "#231f20"},
         "encoding": {"x": {"field": "t", "type": "quantitative", "scale": {"domain": [0, 40], "range": [525, 852], "nice": false, "zero": false}, "axis": null},
                      "y": {"field": "d", "type": "quantitative", "scale": {"domain": [0, 8], "range": [433, 106], "nice": false, "zero": false}, "axis": null},
                      "text": {"field": "text"}}},
        {"data": {"name": "labels"}, "transform": [{"filter": "(datum.panel === 'R' || datum.panel === 'both') && datum.kind === 'small'"}],
         "mark": {"type": "text", "fontSize": 15.5, "align": "left", "baseline": "alphabetic", "fill": "#231f20"},
         "encoding": {"x": {"field": "t", "type": "quantitative", "scale": {"domain": [0, 40], "range": [525, 852], "nice": false, "zero": false}, "axis": null},
                      "y": {"field": "d", "type": "quantitative", "scale": {"domain": [0, 8], "range": [433, 106], "nice": false, "zero": false}, "axis": null},
                      "text": {"field": "text"}}},
        {"data": {"name": "labels"}, "transform": [{"filter": "(datum.panel === 'R' || datum.panel === 'both') && datum.kind === 'div'"}],
         "mark": {"type": "text", "fontSize": 18, "align": "right", "baseline": "alphabetic", "fill": "#231f20"},
         "encoding": {"x": {"field": "t", "type": "quantitative", "scale": {"domain": [0, 40], "range": [525, 852], "nice": false, "zero": false}, "axis": null},
                      "y": {"field": "d", "type": "quantitative", "scale": {"domain": [0, 8], "range": [433, 106], "nice": false, "zero": false}, "axis": null},
                      "text": {"field": "text"}}},
        {"data": {"name": "labels"}, "transform": [{"filter": "(datum.panel === 'R' || datum.panel === 'both') && datum.kind === 'time'"}],
         "mark": {"type": "text", "fontSize": 20, "align": "center", "baseline": "alphabetic", "fill": "#231f20"},
         "encoding": {"x": {"field": "t", "type": "quantitative", "scale": {"domain": [0, 40], "range": [525, 852], "nice": false, "zero": false}, "axis": null},
                      "y": {"field": "d", "type": "quantitative", "scale": {"domain": [0, 8], "range": [433, 106], "nice": false, "zero": false}, "axis": null},
                      "text": {"field": "text"}}}
      ]
    }
  ]
}
